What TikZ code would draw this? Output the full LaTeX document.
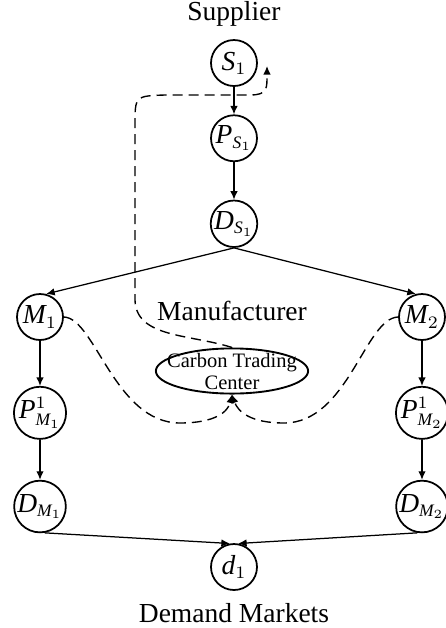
\documentclass[tikz,border=0pt]{standalone}
\usepackage{fontspec}
\setmainfont{Liberation Serif}
\usepackage[italic]{mathastext}
\DeclareMathSizes{11}{11}{7}{5.5}
\usepackage{tikz}
\usetikzlibrary{arrows.meta,positioning,shapes.geometric,calc}

\begin{document}
\begin{tikzpicture}[
  x=0.4pt,y=-0.4pt,
  font=\fontsize{11}{13}\selectfont,
  st/.style={draw,circle,line width=0.7pt,minimum size=18.4pt,inner sep=0pt},
  ctcbox/.style={draw,ellipse,line width=0.75pt,align=center,inner xsep=-4.4pt,inner ysep=-0.9pt,font=\fontsize{8.2}{8.8}\selectfont},
  arr/.style={-{Latex[length=3.4pt,width=3pt]},line width=0.5pt},
  dline/.style={dashed,dash pattern=on 4pt off 2.4pt,line width=0.55pt},
  darr/.style={dline,-{Latex[length=3.4pt,width=3pt]}}
]
  \useasboundingbox (0,0) rectangle (446,628);

  \node (sup) at (234,14) {Supplier};
  \node[st] (s1) at (234,63) {$S_1$};
  \node[st,below=11pt of s1] (ps1) {$P_{S_1}$};
  \node[st,below=15pt of ps1] (ds1) {$D_{S_1}$};
  \draw[arr] (s1)--(ps1);
  \draw[arr] (ps1)--(ds1);

  \node (manu) at (232,311) {Manufacturer};
  \node[st] (m1) at (40,317) {$M_1$};
  \node[st,below=18pt of m1] (pm1) {$P^1_{M_1}$};
  \node[st,below=16pt of pm1] (dm1) {$D_{M_1}$};
  \node[st] (m2) at (422,317) {$M_2$};
  \node[st,below=18pt of m2] (pm2) {$P^1_{M_2}$};
  \node[st,below=16pt of pm2] (dm2) {$D_{M_2}$};
  \draw[arr] (ds1.south)--(m1.75);
  \draw[arr] (ds1.south)--(m2.105);
  \draw[arr] (m1)--(pm1);
  \draw[arr] (pm1)--(dm1);
  \draw[arr] (m2)--(pm2);
  \draw[arr] (pm2)--(dm2);

  \node[ctcbox] (ctc) at (232,371) {Carbon Trading\\Center};
  \coordinate (s1back) at (267,66);
  \draw[darr] (ctc.north) .. controls (190,334) and (136,338) .. (135,300) -- (135,125)
    .. controls (135,96) .. (165,95) -- (250,95) .. controls (268,95) and (267,88) .. (s1back);
  \draw[darr] (m1.east) .. controls (95,318) and (115,423) .. (180,423)
    .. controls (215,423) and (228,412) .. (ctc.south);
  \draw[darr] (m2.west) .. controls (365,318) and (348,423) .. (284,423)
    .. controls (251,423) and (238,412) .. (ctc.south);

  \node[st] (d1) at (234,567) {$d_1$};
  \node (dem) at (234,613) {Demand Markets};
  \draw[arr] (dm1.-80)--(d1.100);
  \draw[arr] (dm2.-100)--(d1.80);
\end{tikzpicture}
\end{document}
